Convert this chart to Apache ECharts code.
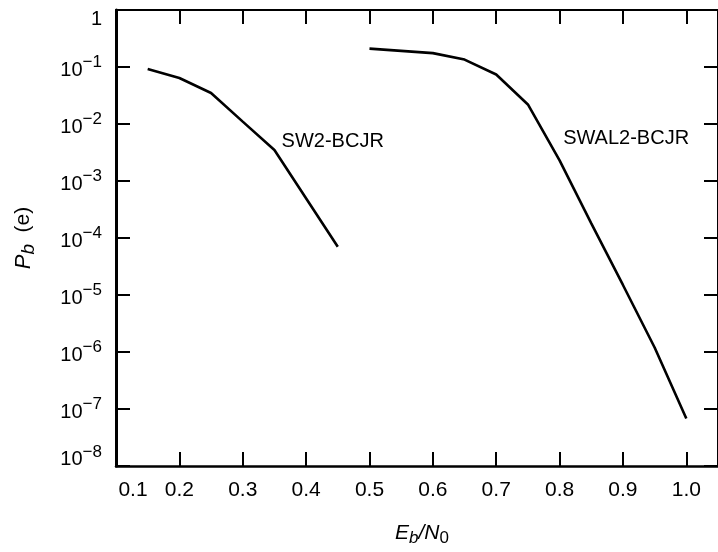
<!DOCTYPE html>
<html>
<head>
<meta charset="utf-8">
<script src="https://cdn.jsdelivr.net/npm/echarts@6/dist/echarts.min.js"></script>
<style>html,body{margin:0;padding:0;background:#fff;}#c{width:718px;height:552px;}</style>
</head>
<body>
<div id="c"></div>
<script>
// Data
const sw2X = [0.15, 0.2, 0.25, 0.3, 0.35, 0.45];
const sw2Y = [0.092, 0.064, 0.035, 0.011, 0.0035, 0.00007];
const swal2X = [0.5, 0.6, 0.65, 0.7, 0.75, 0.8, 0.85, 0.9, 0.95, 1.0];
const swal2Y = [0.21, 0.175, 0.135, 0.074, 0.022, 0.0023, 0.00018, 0.000015, 0.0000012, 0.000000068];
const labelNames = ['SW2-BCJR', 'SWAL2-BCJR'];
const labelX = [0.442, 0.905];
const labelY = [0.005, 0.0056];
const xTicks = [0.1, 0.2, 0.3, 0.4, 0.5, 0.6, 0.7, 0.8, 0.9, 1.0];
const yExponents = [0, -1, -2, -3, -4, -5, -6, -7, -8];

const FONT = '"Liberation Sans", Arial, Helvetica, sans-serif';
const chart = echarts.init(document.getElementById('c'), null, {renderer: 'canvas'});

function pairs(xs, ys) { return xs.map((x, i) => [x, ys[i]]); }

const tick = {show: true, inside: true, length: 14, lineStyle: {color: '#000', width: 2}};
const xBase = {fontSize: 21, fontFamily: FONT, color: '#000'};
const yBase = {fontSize: 20, fontFamily: FONT, color: '#000'};
const supBase = {fontSize: 17, fontFamily: FONT, color: '#000'};

chart.setOption({
  animation: false,
  backgroundColor: '#fff',
  grid: {left: 116, right: -9, top: 10, bottom: 80, containLabel: false},
  xAxis: [{
    type: 'value', position: 'bottom', min: 0.1, max: 1.05, interval: 0.1,
    axisLine: {show: true, lineStyle: {color: '#000', width: 2.5}},
    axisTick: tick,
    splitLine: {show: false},
    axisLabel: {
      show: true, margin: 14, fontSize: 21, fontFamily: FONT, color: '#000',
      showMaxLabel: false,
      formatter: function (v) {
        const k = Math.round(v * 10);
        if (Math.abs(v * 10 - k) > 1e-6 || xTicks.indexOf(k / 10) < 0) return '';
        if (k === 1) return '{f|0.1}';
        return '{n|' + (k / 10).toFixed(1) + '}';
      },
      rich: {
        n: Object.assign({}, xBase),
        f: Object.assign({}, xBase, {padding: [0, 0, 0, 34]})
      }
    },
    name: '{i0|E}{s|b}{i|/N}{z|0}',
    nameLocation: 'middle', nameGap: 54,
    nameTextStyle: {
      rich: {
        i0: {fontSize: 21, fontStyle: 'italic', fontFamily: FONT, color: '#000', padding: [0, 0, 0, 10]},
        i: {fontSize: 21, fontStyle: 'italic', fontFamily: FONT, color: '#000'},
        s: {fontSize: 17, fontStyle: 'italic', fontFamily: FONT, color: '#000', padding: [10, 0, 0, 0]},
        z: {fontSize: 17, fontFamily: FONT, color: '#000', padding: [10, 0, 0, 0]}
      }
    }
  }, {
    type: 'value', position: 'top', min: 0.1, max: 1.05, interval: 0.1,
    axisLine: {show: true, lineStyle: {color: '#000', width: 2}},
    axisTick: tick, axisLabel: {show: false}, splitLine: {show: false}
  }],
  yAxis: [{
    type: 'log', logBase: 10, min: 1e-8, max: 1, interval: 1, splitNumber: 8,
    position: 'left',
    axisLine: {show: true, lineStyle: {color: '#000', width: 3}},
    axisTick: tick,
    splitLine: {show: false},
    axisLabel: {
      show: true, margin: 14, fontSize: 20, fontFamily: FONT, color: '#000',
      formatter: function (v) {
        const e = Math.round(Math.log10(v));
        if (yExponents.indexOf(e) < 0) return '';
        if (e === 0) return '{t|1}';
        if (e === -8) return '{nb|10}{sb|\u2212' + (-e) + '}';
        return '{n|10}{s|\u2212' + (-e) + '}';
      },
      rich: {
        t: Object.assign({}, yBase, {padding: [18, 0, 0, 0]}),
        n: Object.assign({}, yBase, {padding: [6, 0, 0, 0]}),
        s: Object.assign({}, supBase, {padding: [0, 0, 9, 0]}),
        nb: Object.assign({}, yBase, {padding: [0, 0, 13, 0]}),
        sb: Object.assign({}, supBase, {padding: [0, 0, 28, 0]})
      }
    },
    name: '{i|P}{s|b}{n|  (e)}',
    nameLocation: 'middle', nameGap: 78, nameRotate: 90,
    nameTextStyle: {
      rich: {
        i: {fontSize: 22, fontStyle: 'italic', fontFamily: FONT, color: '#000'},
        s: {fontSize: 19, fontStyle: 'italic', fontFamily: FONT, color: '#000', padding: [10, 0, 0, 0]},
        n: {fontSize: 21, fontFamily: FONT, color: '#000'}
      }
    }
  }, {
    type: 'log', logBase: 10, min: 1e-8, max: 1, interval: 1, splitNumber: 8,
    position: 'right',
    axisLine: {show: true, lineStyle: {color: '#000', width: 2}},
    axisTick: tick, axisLabel: {show: false}, splitLine: {show: false}
  }],
  series: [{
    type: 'line', name: 'SW2-BCJR', data: pairs(sw2X, sw2Y),
    showSymbol: false, symbol: 'none',
    lineStyle: {color: '#000', width: 2.6},
    markPoint: {
      symbol: 'circle', symbolSize: 0, silent: true,
      label: {show: true, position: 'inside', formatter: '{b}', fontSize: 20, fontFamily: FONT, color: '#000'},
      data: [{name: labelNames[0], coord: [labelX[0], labelY[0]]}]
    }
  }, {
    type: 'line', name: 'SWAL2-BCJR', data: pairs(swal2X, swal2Y),
    showSymbol: false, symbol: 'none',
    lineStyle: {color: '#000', width: 2.6},
    markPoint: {
      symbol: 'circle', symbolSize: 0, silent: true,
      label: {show: true, position: 'inside', formatter: '{b}', fontSize: 20, fontFamily: FONT, color: '#000'},
      data: [{name: labelNames[1], coord: [labelX[1], labelY[1]]}]
    }
  }]
});
</script>
</body>
</html>
